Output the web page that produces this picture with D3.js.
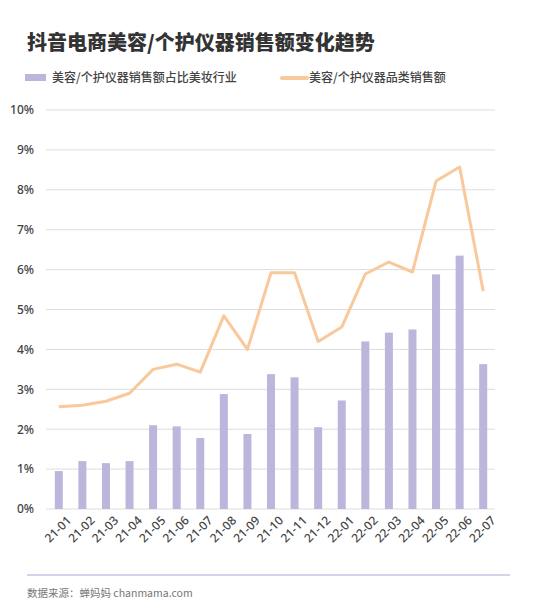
<!DOCTYPE html>
<html><head><meta charset="utf-8">
<script src="https://cdn.jsdelivr.net/npm/d3@7"></script>
<style>body{margin:0;background:#fff;font-family:"Noto Sans CJK SC","Noto Sans",sans-serif}</style>
</head><body>
<svg id="chart" width="541" height="604"></svg>
<script>
const months = ["21-01","21-02","21-03","21-04","21-05","21-06","21-07","21-08","21-09","21-10","21-11","21-12","22-01","22-02","22-03","22-04","22-05","22-06","22-07"];
const shareValues = [0.95,1.2,1.15,1.2,2.1,2.07,1.78,2.88,1.88,3.38,3.3,2.05,2.72,4.2,4.42,4.5,5.88,6.35,3.63];
const salesIndex = [2.56,2.6,2.7,2.9,3.5,3.63,3.43,4.84,4.0,5.92,5.92,4.2,4.56,5.89,6.19,5.94,8.22,8.57,5.46];
const yTicks = [0,1,2,3,4,5,6,7,8,9,10];

const svg = d3.select("#chart");

svg.append("text").attr("x", 27).attr("y", 50)
    .attr("font-size", 20).attr("font-weight", 900).attr("fill", "#333")
    .text("抖音电商美容/个护仪器销售额变化趋势");

// legend
svg.append("rect").attr("x", 25).attr("y", 74).attr("width", 21).attr("height", 7).attr("fill", "#bdb6dc");
svg.append("text").attr("x", 52).attr("y", 82).attr("font-size", 12).attr("font-weight", 500).attr("fill", "#444").text("美容/个护仪器销售额占比美妆行业");
svg.append("line").attr("x1", 282).attr("x2", 307).attr("y1", 78).attr("y2", 78)
    .attr("stroke", "#f9c89b").attr("stroke-width", 4).attr("stroke-linecap", "round");
svg.append("text").attr("x", 309).attr("y", 82).attr("font-size", 12).attr("font-weight", 500).attr("fill", "#444").text("美容/个护仪器品类销售额");

const xScale = d3.scaleBand().domain(months).range([47, 495]).paddingInner(0.66).paddingOuter(0.33);
const yScale = d3.scaleLinear().domain([0, 10]).range([509, 110]);
const y2Scale = d3.scaleLinear().domain([0, 10]).range([509, 110]);

const grid = svg.append("g");
grid.selectAll("line").data(yTicks).enter().append("line")
    .attr("x1", 46).attr("x2", 495)
    .attr("y1", d => yScale(d)).attr("y2", d => yScale(d))
    .attr("stroke", "#ddd").attr("stroke-width", 1);

const yAxis = svg.append("g").attr("transform", "translate(37,0)")
    .call(d3.axisLeft(yScale).tickValues(yTicks).tickFormat(d => d + "%").tickSize(0));
yAxis.select(".domain").remove();
yAxis.selectAll("text").attr("font-size", 12).attr("font-weight", 500).attr("fill", "#444").attr("font-family", "Noto Sans");

svg.selectAll("rect.bar").data(shareValues).enter().append("rect")
    .attr("class", "bar")
    .attr("x", (d, i) => xScale(months[i]))
    .attr("y", d => yScale(d))
    .attr("width", xScale.bandwidth())
    .attr("height", d => yScale(0) - yScale(d))
    .attr("fill", "#bdb6dc");

const line = d3.line()
    .x((d, i) => xScale(months[i]) + xScale.bandwidth() / 2)
    .y(d => y2Scale(d));
svg.append("path").datum(salesIndex).attr("d", line)
    .attr("fill", "none").attr("stroke", "#f9c89b").attr("stroke-width", 3).attr("stroke-linejoin", "round");

const xAxis = svg.append("g").attr("transform", "translate(0,512)")
    .call(d3.axisBottom(xScale).tickSize(0));
xAxis.select(".domain").remove();
xAxis.selectAll("text")
    .attr("font-size", 12).attr("font-weight", 500).attr("fill", "#444").attr("font-family", "Noto Sans")
    .attr("text-anchor", "end")
    .attr("transform", "translate(6,2) rotate(-45)")
    .attr("dy", "0.6em");

svg.append("line").attr("x1", 27).attr("x2", 510).attr("y1", 575).attr("y2", 575)
    .attr("stroke", "#c9c3e6").attr("stroke-width", 1.5);
svg.append("text").attr("x", 27).attr("y", 597).attr("font-size", 10.5).attr("fill", "#777")
    .text("数据来源：蝉妈妈 chanmama.com");
</script>
</body></html>
